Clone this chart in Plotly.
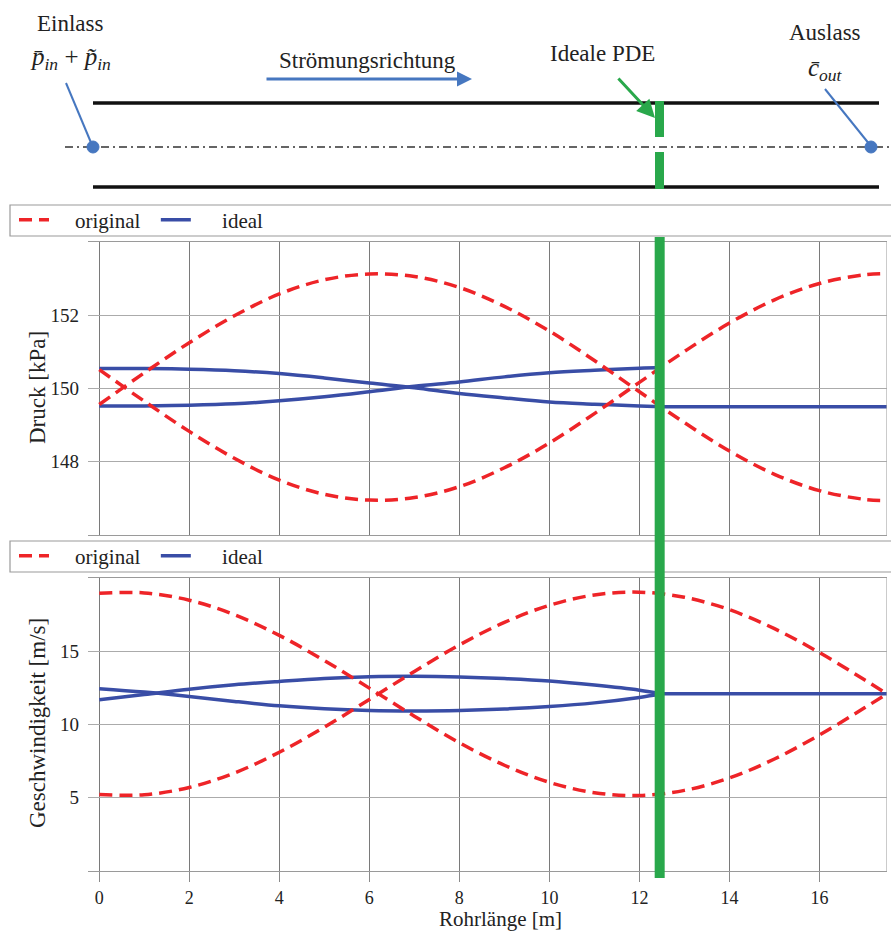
import plotly.graph_objects as go

W, H = 891, 933

# ---------------- data ----------------
X_ORIG = [0, 1, 2, 3, 4, 5, 6, 7, 8, 9, 10, 11, 12, 13, 14, 15, 16, 17, 17.5]
P_ORIG_A = [150.52, 149.65, 148.82, 148.08, 147.48, 147.09, 146.93, 147.00, 147.30, 147.82,
            148.50, 149.31, 150.17, 151.02, 151.80, 152.44, 152.89, 153.13, 153.16]
P_ORIG_B = [149.56, 150.43, 151.26, 152.00, 152.60, 152.99, 153.15, 153.08, 152.78, 152.26,
            151.58, 150.77, 149.91, 149.06, 148.28, 147.64, 147.19, 146.95, 146.92]
V_ORIG_A = [18.99, 19.01, 18.51, 17.52, 16.10, 14.38, 12.49, 10.57, 8.75, 7.21,
            6.04, 5.33, 5.14, 5.49, 6.34, 7.64, 9.28, 11.14, 12.10]
V_ORIG_B = [5.21, 5.19, 5.69, 6.68, 8.10, 9.82, 11.71, 13.63, 15.45, 16.99,
            18.16, 18.87, 19.06, 18.71, 17.86, 16.56, 14.92, 13.06, 12.10]

X_IDEAL = [0, 1, 2, 3, 4, 5, 6, 7, 8, 9, 10, 11, 12, 12.5]
P_IDEAL_A = [150.55, 150.55, 150.53, 150.49, 150.41, 150.29, 150.15, 150.02, 149.86, 149.74,
             149.63, 149.57, 149.52, 149.50]
P_IDEAL_B = [149.52, 149.52, 149.54, 149.58, 149.66, 149.77, 149.91, 150.06, 150.18, 150.32,
             150.43, 150.50, 150.56, 150.58]
V_IDEAL_A = [12.45, 12.22, 11.92, 11.58, 11.28, 11.08, 10.96, 10.93, 10.96, 11.06,
             11.23, 11.48, 11.85, 12.10]
V_IDEAL_B = [11.69, 12.05, 12.42, 12.72, 12.95, 13.15, 13.27, 13.30, 13.26, 13.15,
             12.98, 12.70, 12.35, 12.10]

X_TAIL = [12.5, 17.5]
P_IDEAL_TAIL = [149.50, 149.50]
V_IDEAL_TAIL = [12.10, 12.10]

X_TICKS = [0, 2, 4, 6, 8, 10, 12, 14, 16]
P_TICKS = [148, 150, 152]
V_TICKS = [5, 10, 15]
PDE_X = 12.45

NBSP = "\u00a0"
NAME_ORIG = NBSP * 4 + "original" + NBSP * 2
NAME_IDEAL = NBSP * 5 + "ideal"
X_TITLE = "Rohrlänge [m]"
P_TITLE = "Druck [kPa]"
V_TITLE = "Geschwindigkeit [m/s]"

# ---------------- styles ----------------
RED = "#EE2428"
BLUE = "#394DA6"
SBLUE = "#4677C0"
GREEN = "#29A84B"
FONT = "Liberation Serif, Times New Roman, serif"
DASH = "13px,7px"


def px(x):
    return x / W


def py(y):
    return 1 - y / H


XDOM = [px(88), px(887)]
XR = [-0.25, 17.5]

fig = go.Figure()

# top panel (pressure)
fig.add_trace(go.Scatter(x=X_IDEAL, y=P_IDEAL_A, mode="lines", name=NAME_IDEAL,
                         line=dict(color=BLUE, width=3.5, shape="spline"),
                         legend="legend", legendrank=2, xaxis="x", yaxis="y"))
fig.add_trace(go.Scatter(x=X_IDEAL, y=P_IDEAL_B, mode="lines", showlegend=False,
                         line=dict(color=BLUE, width=3.5, shape="spline"), xaxis="x", yaxis="y"))
fig.add_trace(go.Scatter(x=X_TAIL, y=P_IDEAL_TAIL, mode="lines", showlegend=False,
                         line=dict(color=BLUE, width=3.5), xaxis="x", yaxis="y"))
fig.add_trace(go.Scatter(x=X_ORIG, y=P_ORIG_A, mode="lines", name=NAME_ORIG,
                         line=dict(color=RED, width=3.5, dash=DASH, shape="spline"),
                         legend="legend", legendrank=1, xaxis="x", yaxis="y"))
fig.add_trace(go.Scatter(x=X_ORIG, y=P_ORIG_B, mode="lines", showlegend=False,
                         line=dict(color=RED, width=3.5, dash=DASH, shape="spline"), xaxis="x", yaxis="y"))

# bottom panel (velocity)
fig.add_trace(go.Scatter(x=X_IDEAL, y=V_IDEAL_A, mode="lines", name=NAME_IDEAL,
                         line=dict(color=BLUE, width=3.5, shape="spline"),
                         legend="legend2", legendrank=2, xaxis="x2", yaxis="y2"))
fig.add_trace(go.Scatter(x=X_IDEAL, y=V_IDEAL_B, mode="lines", showlegend=False,
                         line=dict(color=BLUE, width=3.5, shape="spline"), xaxis="x2", yaxis="y2"))
fig.add_trace(go.Scatter(x=X_TAIL, y=V_IDEAL_TAIL, mode="lines", showlegend=False,
                         line=dict(color=BLUE, width=3.5), xaxis="x2", yaxis="y2"))
fig.add_trace(go.Scatter(x=X_ORIG, y=V_ORIG_A, mode="lines", name=NAME_ORIG,
                         line=dict(color=RED, width=3.5, dash=DASH, shape="spline"),
                         legend="legend2", legendrank=1, xaxis="x2", yaxis="y2"))
fig.add_trace(go.Scatter(x=X_ORIG, y=V_ORIG_B, mode="lines", showlegend=False,
                         line=dict(color=RED, width=3.5, dash=DASH, shape="spline"), xaxis="x2", yaxis="y2"))

tickfont = dict(family=FONT, size=19, color="#222")

xcommon = dict(domain=XDOM, range=XR, tickvals=X_TICKS, showgrid=True, gridcolor="#7a7a7a",
               gridwidth=1, zeroline=False, showline=True, mirror=True, linecolor="#9a9a9a",
               linewidth=1.2, automargin=False)
fig.update_layout(
    width=W, height=H, margin=dict(l=0, r=0, t=0, b=0),
    paper_bgcolor="white", plot_bgcolor="white",
    font=dict(family=FONT, color="#222"),
    xaxis=dict(**xcommon, anchor="y", showticklabels=False, ticks=""),
    xaxis2=dict(**xcommon, anchor="y2", ticks="outside", ticklen=10, tickcolor="#8a8a8a",
                tickwidth=1, tickfont=dict(family=FONT, size=18, color="#222")),
    yaxis=dict(domain=[py(535), py(242)], range=[145.97, 154.03], tickvals=P_TICKS,
               showgrid=True, gridcolor="#ababab", gridwidth=1.2, zeroline=False, showline=False,
               tickfont=tickfont, ticklabelstandoff=8, automargin=False, anchor="x"),
    yaxis2=dict(domain=[py(871), py(578)], range=[-0.03, 20.03], tickvals=V_TICKS,
                showgrid=True, gridcolor="#ababab", gridwidth=1.2, zeroline=False, showline=False,
                tickfont=tickfont, ticklabelstandoff=8, automargin=False, anchor="x2"),
    legend=dict(orientation="h", x=px(14), xanchor="left", y=py(220), yanchor="middle",
                bgcolor="rgba(0,0,0,0)", borderwidth=0, font=dict(family=FONT, size=21, color="#222"),
                traceorder="normal", itemwidth=30),
    legend2=dict(orientation="h", x=px(14), xanchor="left", y=py(556), yanchor="middle",
                 bgcolor="rgba(0,0,0,0)", borderwidth=0, font=dict(family=FONT, size=21, color="#222"),
                 traceorder="normal", itemwidth=30),
)

shapes = []
# legend boxes
for (t, b) in [(205, 236), (541, 572)]:
    shapes.append(dict(type="rect", xref="paper", yref="paper", x0=px(10), x1=px(893),
                       y0=py(b), y1=py(t), line=dict(color="#9a9a9a", width=1.2), layer="below"))
# right border of both panels
for ya in ["y", "y2"]:
    shapes.append(dict(type="line", xref="x", yref=ya + " domain", x0=17.5, x1=17.5, y0=0, y1=1,
                       line=dict(color="#a8a8a8", width=1.2)))
# green PDE line through both panels
shapes.append(dict(type="line", xref="x", yref="paper", x0=PDE_X, x1=PDE_X, y0=py(878), y1=py(237),
                   line=dict(color=GREEN, width=10), layer="above"))

# schematic: pipe walls, centreline
shapes.append(dict(type="line", xref="paper", yref="paper", x0=px(93), x1=px(879), y0=py(103), y1=py(103),
                   line=dict(color="#111", width=3.3)))
shapes.append(dict(type="line", xref="paper", yref="paper", x0=px(93), x1=px(879), y0=py(187), y1=py(187),
                   line=dict(color="#111", width=3.3)))
shapes.append(dict(type="line", xref="paper", yref="paper", x0=px(65), x1=px(891), y0=py(147), y1=py(147),
                   line=dict(color="#333", width=1.4, dash="8px,4px,2px,4px")))
# leader lines
shapes.append(dict(type="line", xref="paper", yref="paper", x0=px(66), y0=py(83), x1=px(92), y1=py(145),
                   line=dict(color=SBLUE, width=2)))
shapes.append(dict(type="line", xref="paper", yref="paper", x0=px(825), y0=py(89), x1=px(870), y1=py(145),
                   line=dict(color=SBLUE, width=2)))
# dots
for cx in [93, 871]:
    shapes.append(dict(type="circle", xref="paper", yref="paper", x0=px(cx - 6), x1=px(cx + 6),
                       y0=py(153), y1=py(141), fillcolor=SBLUE, line=dict(color=SBLUE, width=1)))
# green PDE marker in the pipe
for (t, b) in [(101, 137), (152, 189)]:
    shapes.append(dict(type="rect", xref="paper", yref="paper", x0=px(655), x1=px(664),
                       y0=py(b), y1=py(t), fillcolor=GREEN, line=dict(color=GREEN, width=0)))

fig.update_layout(shapes=shapes)

ann = []


def label(text, x, y, size=23, angle=0, yanchor="middle"):
    ann.append(dict(text=text, xref="paper", yref="paper", x=px(x), y=py(y), xanchor="center",
                    yanchor=yanchor, showarrow=False, textangle=angle,
                    font=dict(family=FONT, size=size, color="#222")))


# axis titles
label(X_TITLE, 500, 933, size=21, yanchor="bottom")
label(P_TITLE, 37, 388, angle=-90)
label(V_TITLE, 37, 723, angle=-90)

# schematic labels
label("Einlass", 70, 23)
label("<i>p\u0304</i><sub><i>in</i></sub> + <i>p\u0303</i><sub><i>in</i></sub>", 70, 58, size=25)
label("Strömungsrichtung", 367, 60)
label("Ideale PDE", 602, 53)
label("Auslass", 825, 33)
label("<i>c\u0304</i><sub><i>out</i></sub>", 825, 70, size=25)

# arrows
ann.append(dict(text="", xref="paper", yref="paper", x=px(472), y=py(79), ax=-207, ay=0,
                showarrow=True, arrowhead=2, arrowsize=1.0, arrowwidth=3, arrowcolor=SBLUE, standoff=0))
ann.append(dict(text="", xref="paper", yref="paper", x=px(655), y=py(118), ax=-38, ay=-41,
                showarrow=True, arrowhead=2, arrowsize=1.2, arrowwidth=3, arrowcolor=GREEN, standoff=0))

fig.update_layout(annotations=ann)

fig.write_html("out.html")
